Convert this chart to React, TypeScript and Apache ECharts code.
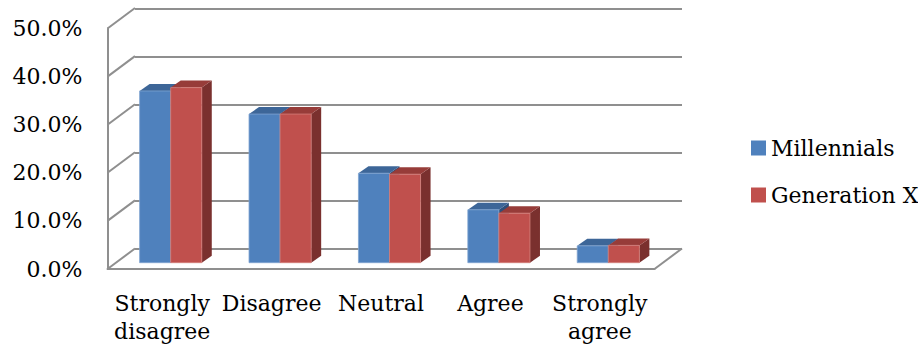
import React, { useEffect, useRef } from "react";
import * as echarts from "echarts";

const categories = ["Strongly\ndisagree", "Disagree", "Neutral", "Agree", "Strongly\nagree"];
const millennials = [35.7, 30.9, 18.6, 11.0, 3.5];
const generationX = [36.4, 30.9, 18.4, 10.3, 3.6];
const seriesNames = ["Millennials", "Generation X"];
const yTicks = [0, 10, 20, 30, 40, 50];

const FONT = "DejaVu Serif";
const GRAY = "#8f8f8f";
const DX = 27.5; // depth offset of the walls
const DY = 20.5;
const BDX = 10; // depth of bar tops
const BDY = 7;

const palette = [
  { front: "#4F81BD", top: "#3D6698", side: "#2E4F7A", edge: "#7FA3D1" },
  { front: "#C0504D", top: "#973C39", side: "#7A302E", edge: "#D27D7A" },
];

function makeBarRender(seriesIdx: number) {
  return (params: any, api: any) => {
    const idx = api.value(0);
    const v = api.value(1);
    const p = api.coord([idx, v]);
    const p0 = api.coord([idx, 0]);
    const band = api.size([1, 0])[0];
    const w = band * 0.284;
    const x0 = seriesIdx === 0 ? p[0] - w : p[0];
    const yt = p[1];
    const yb = p0[1];
    const c = palette[seriesIdx];
    return {
      type: "group",
      children: [
        {
          type: "polygon",
          shape: {
            points: [
              [x0 + w, yt],
              [x0 + w + BDX, yt - BDY],
              [x0 + w + BDX, yb - BDY],
              [x0 + w, yb],
            ],
          },
          style: { fill: c.side },
        },
        {
          type: "polygon",
          shape: {
            points: [
              [x0, yt],
              [x0 + BDX, yt - BDY],
              [x0 + w + BDX, yt - BDY],
              [x0 + w, yt],
            ],
          },
          style: { fill: c.top },
        },
        {
          type: "rect",
          shape: { x: x0, y: yt, width: w, height: yb - yt },
          style: { fill: c.front, stroke: c.edge, lineWidth: 0.8 },
        },
      ],
    };
  };
}

function wallRender(params: any, api: any) {
  const v = api.value(1);
  const cs = params.coordSys;
  const p = api.coord([0, v]);
  const x = cs.x;
  return {
    type: "line",
    shape: { x1: x, y1: p[1], x2: x + DX, y2: p[1] - DY },
    style: { stroke: GRAY, lineWidth: 2 },
  };
}

function floorEdgeRender(params: any, api: any) {
  const cs = params.coordSys;
  const p = api.coord([0, 0]);
  const x = cs.x + cs.width;
  return {
    type: "line",
    shape: { x1: x, y1: p[1], x2: x + DX, y2: p[1] - DY },
    style: { stroke: GRAY, lineWidth: 2 },
  };
}

export default function App() {
  const ref = useRef<HTMLDivElement>(null);
  useEffect(() => {
    if (!ref.current) return;
    const chart = echarts.init(ref.current, undefined, { renderer: "svg" });
    const hiddenAxis = { show: false };
    chart.setOption({
      animation: false,
      backgroundColor: "#ffffff",
      grid: [
        // back wall
        { left: 135, top: 8.3, width: 547, height: 240.2 },
        // bar plane
        { left: 116, top: 22.2, width: 547, height: 240.5 },
        // front plane
        { left: 107.5, top: 28.5, width: 547, height: 240.5 },
      ],
      xAxis: [
        { type: "category", gridIndex: 0, data: categories, ...hiddenAxis },
        { type: "category", gridIndex: 1, data: categories, ...hiddenAxis },
        {
          type: "category",
          gridIndex: 2,
          data: categories,
          axisLine: { show: true, lineStyle: { color: GRAY, width: 2 } },
          axisTick: { show: false },
          axisLabel: {
            interval: 0,
            margin: 20,
            color: "#000",
            fontFamily: FONT,
            fontSize: 22,
            lineHeight: 28,
            verticalAlign: "top",
          },
          splitLine: { show: false },
        },
      ],
      yAxis: [
        {
          type: "value",
          gridIndex: 0,
          min: 0,
          max: 50,
          interval: 10,
          axisLine: { show: false },
          axisTick: { show: false },
          axisLabel: { show: false },
          splitLine: { show: true, lineStyle: { color: GRAY, width: 2 } },
        },
        { type: "value", gridIndex: 1, min: 0, max: 50, interval: 10, ...hiddenAxis },
        {
          type: "value",
          gridIndex: 2,
          min: 0,
          max: 50,
          interval: 10,
          axisLine: { show: true, lineStyle: { color: GRAY, width: 2 } },
          axisTick: { show: false },
          splitLine: { show: false },
          axisLabel: {
            margin: 25,
            color: "#000",
            fontFamily: FONT,
            fontSize: 22,
            padding: [6, 0, 0, 0],
            formatter: (v: number) => v.toFixed(1) + "%",
          },
        },
      ],
      legend: {
        orient: "vertical",
        left: 746,
        top: 132,
        itemWidth: 15,
        itemHeight: 15,
        itemGap: 25,
        icon: "rect",
        data: seriesNames,
        textStyle: { color: "#000", fontFamily: FONT, fontSize: 22, lineHeight: 22 },
      },
      series: [
        {
          type: "custom",
          name: "walls",
          xAxisIndex: 2,
          yAxisIndex: 2,
          renderItem: wallRender,
          data: yTicks.map((t) => [0, t]),
          silent: true,
          z: 1,
        },
        {
          type: "custom",
          name: "floorEdge",
          xAxisIndex: 2,
          yAxisIndex: 2,
          renderItem: floorEdgeRender,
          data: [[0, 0]],
          silent: true,
          z: 1,
        },
        {
          type: "custom",
          name: seriesNames[0],
          xAxisIndex: 1,
          yAxisIndex: 1,
          itemStyle: { color: palette[0].front },
          renderItem: makeBarRender(0),
          data: millennials.map((v, i) => [i, v]),
          z: 3,
        },
        {
          type: "custom",
          name: seriesNames[1],
          xAxisIndex: 1,
          yAxisIndex: 1,
          itemStyle: { color: palette[1].front },
          renderItem: makeBarRender(1),
          data: generationX.map((v, i) => [i, v]),
          z: 4,
        },
      ],
    });
    return () => chart.dispose();
  }, []);
  return (
    <div
      ref={ref}
      style={{ position: "fixed", left: 0, top: 0, width: 918, height: 350 }}
    />
  );
}
